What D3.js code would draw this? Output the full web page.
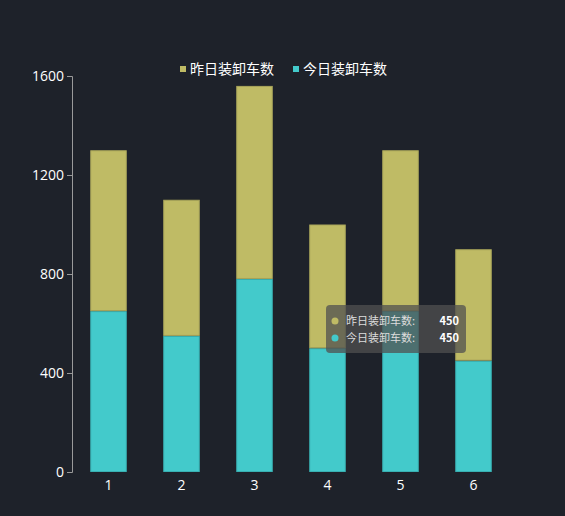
<!DOCTYPE html>
<html lang="zh">
<head>
  <meta charset="UTF-8" />
  <title>装卸车数</title>
  <style>
    html, body {
      margin: 0;
      padding: 0;
      width: 100%;
      height: 100%;
      background: #1e222a;
      font-family: "Noto Sans CJK SC", "Noto Sans", sans-serif;
    }
    svg { display: block; }
  </style>
</head>
<body>
  <svg width="565" height="516"></svg>
  <script src="https://d3js.org/d3.v7.min.js"></script>
  <script>
    const categories = ['1', '2', '3', '4', '5', '6'];
    const yesterday = [650, 550, 780, 500, 650, 450];
    const today = [650, 550, 780, 500, 650, 450];
    const yTicks = [0, 400, 800, 1200, 1600];
    const seriesNames = ['昨日装卸车数', '今日装卸车数'];
    const colors = ['#bfbb65', '#43cacb'];
    const strokes = ['#a9a55a', '#38b0b2'];

    const svg = d3.select("svg");
    const margin = { left: 72, right: 55, top: 76, bottom: 44 };
    const width = 565, height = 516;

    const x = d3.scaleBand()
      .domain(categories)
      .range([margin.left, width - margin.right])
      .paddingInner(0.5)
      .paddingOuter(0.25);

    const y = d3.scaleLinear()
      .domain([0, 1600])
      .range([height - margin.bottom, margin.top]);

    // stack: today at the bottom, yesterday on top
    const rows = categories.map((c, i) => ({ cat: c, today: today[i], yesterday: yesterday[i] }));
    const stacked = d3.stack().keys(['today', 'yesterday'])(rows);
    const keyIdx = { today: 1, yesterday: 0 };

    svg.append("g")
      .selectAll("g")
      .data(stacked)
      .join("g")
      .attr("fill", d => colors[keyIdx[d.key]])
      .attr("stroke", d => strokes[keyIdx[d.key]])
      .attr("stroke-width", 1)
      .selectAll("rect")
      .data(d => d)
      .join("rect")
      .attr("x", d => x(d.data.cat) + 0.5)
      .attr("y", d => y(d[1]) + 0.5)
      .attr("width", x.bandwidth() - 1)
      .attr("height", d => y(d[0]) - y(d[1]) - 1);

    // y axis
    const yAxis = svg.append("g")
      .attr("transform", `translate(${margin.left},0)`)
      .call(d3.axisLeft(y).tickValues(yTicks).tickFormat(d3.format("d")).tickSize(5).tickPadding(3));
    yAxis.select(".domain").attr("stroke", "#9a9a9a");
    yAxis.selectAll(".tick line").attr("stroke", "#9a9a9a");
    yAxis.selectAll("text")
      .attr("fill", "#ffffff")
      .style("font-size", "14px")
      .style("font-family", "'Open Sans', sans-serif");

    // x axis labels (no axis line)
    const xAxis = svg.append("g")
      .attr("transform", `translate(0,${height - margin.bottom})`)
      .call(d3.axisBottom(x).tickSize(0).tickPadding(8));
    xAxis.select(".domain").remove();
    xAxis.selectAll("text")
      .attr("fill", "#ffffff")
      .style("font-size", "14px")
      .style("font-family", "'Open Sans', sans-serif");

    // legend
    const legendX = [180, 293];
    const legend = svg.append("g");
    seriesNames.forEach((name, i) => {
      legend.append("rect")
        .attr("x", legendX[i]).attr("y", 66)
        .attr("width", 6).attr("height", 6)
        .attr("fill", colors[i]);
      legend.append("text")
        .attr("x", legendX[i] + 10).attr("y", 74)
        .attr("fill", "#ffffff")
        .style("font-size", "14px")
        .text(name);
    });

    // tooltip (hover state on category 6)
    const tipCat = 5;
    const tip = svg.append("g").attr("transform", "translate(326,305)");
    tip.append("rect")
      .attr("width", 140).attr("height", 48)
      .attr("rx", 4)
      .attr("fill", "rgba(80,80,80,0.75)");
    const tipVals = [yesterday[tipCat], today[tipCat]];
    seriesNames.forEach((name, i) => {
      const ty = 16 + i * 17;
      tip.append("circle")
        .attr("cx", 9).attr("cy", ty).attr("r", 3.5)
        .attr("fill", colors[i]);
      tip.append("text")
        .attr("x", 20).attr("y", ty + 4)
        .attr("fill", "#dddddd")
        .style("font-size", "11px")
        .text(name + ":");
      tip.append("text")
        .attr("x", 133).attr("y", ty + 4)
        .attr("text-anchor", "end")
        .attr("fill", "#ffffff")
        .style("font-size", "11px")
        .style("font-weight", "bold")
        .text(tipVals[i]);
    });
  </script>
</body>
</html>
